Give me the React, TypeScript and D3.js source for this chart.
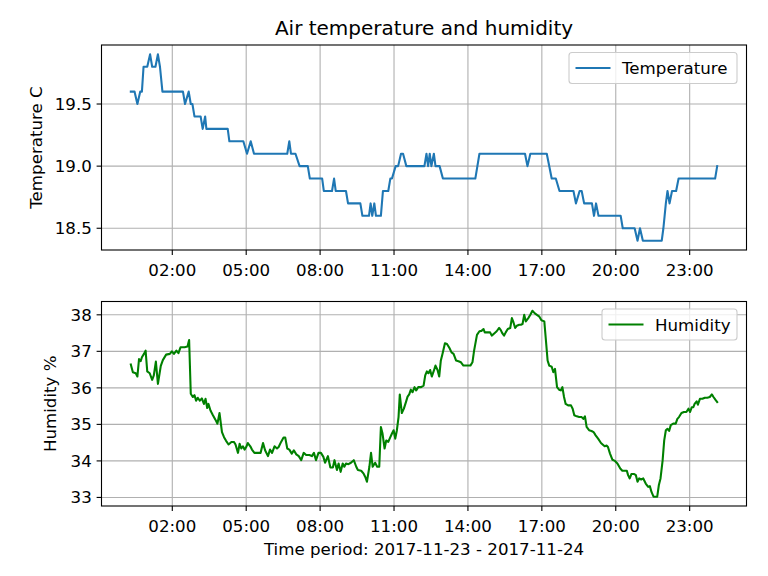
import React from "react";
import * as d3 from "d3";

// minutes since 2017-11-23 00:00, value
const temperature: [number, number][] = [
  [19, 19.6], [28, 19.6], [35, 19.5], [42, 19.6], [46, 19.6], [50, 19.8], [59, 19.8], [66, 19.9],
  [71, 19.8], [79, 19.8], [85, 19.9], [90, 19.8], [96, 19.6], [146, 19.6], [151, 19.5], [160, 19.6],
  [165, 19.5], [169, 19.5], [174, 19.4], [189, 19.4], [194, 19.3], [200, 19.4], [203, 19.3], [255, 19.3],
  [259, 19.2], [293, 19.2], [302, 19.1], [311, 19.2], [319, 19.1], [400, 19.1], [405, 19.2], [409, 19.1],
  [420, 19.1], [430, 19.0], [450, 19.0], [455, 18.9], [485, 18.9], [489, 18.8], [509, 18.8], [514, 18.9],
  [518, 18.8], [543, 18.8], [548, 18.7], [578, 18.7], [583, 18.6], [599, 18.6], [603, 18.7], [607, 18.6],
  [612, 18.7], [616, 18.6], [628, 18.6], [633, 18.8], [646, 18.8], [651, 18.9], [655, 18.9], [664, 19.0],
  [670, 19.0], [677, 19.1], [682, 19.1], [690, 19.0], [734, 19.0], [739, 19.1], [743, 19.0], [747, 19.1],
  [751, 19.0], [757, 19.1], [761, 19.0], [771, 19.0], [779, 18.9], [858, 18.9], [868, 19.1], [979, 19.1],
  [985, 19.0], [992, 19.1], [1032, 19.1], [1044, 18.9], [1054, 18.9], [1063, 18.8], [1097, 18.8], [1103, 18.7],
  [1112, 18.8], [1117, 18.8], [1123, 18.7], [1142, 18.7], [1147, 18.6], [1152, 18.7], [1158, 18.6], [1212, 18.6],
  [1217, 18.5], [1246, 18.5], [1253, 18.4], [1259, 18.5], [1266, 18.4], [1312, 18.4], [1316, 18.5], [1319, 18.6],
  [1322, 18.7], [1326, 18.8], [1331, 18.7], [1337, 18.8], [1347, 18.8], [1353, 18.9], [1442, 18.9], [1447, 19.0],
];

const humidity: [number, number][] = [
  [19, 36.64], [24, 36.43], [31, 36.4], [35, 36.31], [39, 36.79], [43, 36.73], [46, 36.84], [51, 36.93],
  [55, 37.02], [59, 36.45], [65, 36.4], [71, 36.22], [75, 36.34], [80, 36.72], [85, 36.11], [92, 36.6],
  [97, 36.76], [105, 36.91], [114, 36.93], [119, 37.0], [124, 36.93], [130, 37.02], [135, 36.95], [140, 37.11],
  [150, 37.11], [157, 37.13], [161, 37.31], [165, 35.84], [170, 35.75], [174, 35.8], [178, 35.65], [182, 35.73],
  [187, 35.65], [192, 35.71], [197, 35.56], [201, 35.7], [205, 35.45], [208, 35.56], [213, 35.38], [219, 35.25],
  [225, 35.13], [230, 35.02], [235, 35.31], [241, 34.79], [246, 34.65], [251, 34.55], [257, 34.45], [264, 34.52],
  [270, 34.52], [274, 34.45], [280, 34.22], [284, 34.47], [288, 34.34], [292, 34.4], [296, 34.31], [300, 34.38],
  [304, 34.49], [310, 34.4], [314, 34.31], [320, 34.22], [328, 34.22], [335, 34.22], [341, 34.49], [346, 34.29],
  [353, 34.13], [358, 34.31], [363, 34.22], [369, 34.4], [375, 34.34], [379, 34.38], [385, 34.52], [391, 34.64],
  [395, 34.64], [400, 34.34], [405, 34.31], [411, 34.2], [416, 34.29], [422, 34.18], [428, 34.13], [434, 34.02],
  [440, 34.22], [446, 34.16], [454, 34.16], [460, 34.13], [465, 34.22], [470, 34.02], [476, 34.22], [482, 34.22],
  [488, 34.11], [492, 33.95], [499, 34.13], [505, 33.82], [511, 33.82], [515, 34.02], [521, 33.75], [525, 33.93],
  [530, 33.7], [535, 33.93], [539, 33.84], [543, 33.93], [549, 33.91], [555, 33.95], [562, 34.02], [568, 33.84],
  [572, 33.75], [580, 33.73], [586, 33.65], [590, 33.56], [594, 33.43], [600, 33.84], [604, 34.22], [608, 33.84],
  [614, 33.95], [619, 33.84], [624, 33.84], [628, 34.93], [632, 34.75], [637, 34.34], [641, 34.56], [646, 34.52],
  [651, 34.65], [655, 34.75], [659, 34.84], [663, 34.61], [667, 34.84], [671, 35.2], [674, 35.82], [679, 35.31],
  [684, 35.43], [689, 35.61], [693, 35.76], [697, 35.82], [701, 35.95], [705, 35.88], [710, 36.02], [714, 35.93],
  [719, 36.02], [726, 36.02], [732, 36.06], [736, 36.34], [740, 36.45], [744, 36.4], [748, 36.49], [752, 36.31],
  [757, 36.47], [761, 36.61], [766, 36.49], [770, 36.31], [774, 36.75], [778, 36.93], [784, 37.22], [789, 37.2],
  [795, 37.09], [800, 36.97], [805, 36.93], [811, 36.75], [817, 36.73], [823, 36.7], [829, 36.61], [838, 36.61],
  [846, 36.61], [851, 36.7], [855, 37.02], [862, 37.45], [868, 37.55], [873, 37.56], [878, 37.61], [881, 37.52],
  [888, 37.52], [894, 37.52], [898, 37.43], [904, 37.49], [910, 37.55], [916, 37.64], [920, 37.58], [924, 37.49],
  [928, 37.43], [932, 37.52], [937, 37.61], [943, 37.64], [947, 37.91], [951, 37.79], [955, 37.64], [959, 37.7],
  [965, 37.73], [969, 37.73], [973, 37.75], [977, 38.0], [981, 37.82], [987, 37.91], [992, 38.0], [997, 38.11],
  [1003, 38.04], [1008, 38.0], [1014, 37.95], [1019, 37.85], [1026, 37.82], [1030, 37.29], [1034, 36.75], [1038, 36.61],
  [1044, 36.58], [1048, 36.43], [1052, 36.52], [1057, 36.02], [1062, 35.95], [1066, 35.93], [1070, 36.02], [1074, 35.75],
  [1078, 35.56], [1084, 35.52], [1091, 35.52], [1095, 35.43], [1099, 35.25], [1105, 35.22], [1111, 35.2], [1117, 35.2],
  [1121, 35.15], [1125, 35.22], [1129, 34.93], [1135, 34.84], [1141, 34.82], [1146, 34.79], [1151, 34.7], [1157, 34.61],
  [1164, 34.49], [1168, 34.45], [1173, 34.4], [1178, 34.42], [1181, 34.38], [1186, 34.2], [1192, 34.03], [1198, 34.0],
  [1204, 33.93], [1211, 33.79], [1216, 33.73], [1222, 33.73], [1227, 33.73], [1230, 33.61], [1234, 33.52], [1238, 33.64],
  [1245, 33.64], [1249, 33.61], [1253, 33.43], [1257, 33.52], [1262, 33.49], [1267, 33.52], [1273, 33.38], [1279, 33.29],
  [1283, 33.31], [1287, 33.15], [1292, 33.02], [1297, 33.02], [1301, 33.02], [1305, 33.34], [1309, 33.52], [1314, 34.0],
  [1318, 34.56], [1322, 34.84], [1326, 34.88], [1330, 34.82], [1334, 34.98], [1340, 35.02], [1346, 35.02], [1350, 35.15],
  [1354, 35.2], [1360, 35.31], [1366, 35.34], [1372, 35.34], [1377, 35.43], [1381, 35.34], [1385, 35.47], [1389, 35.47],
  [1392, 35.56], [1397, 35.63], [1400, 35.54], [1405, 35.7], [1411, 35.7], [1417, 35.73], [1423, 35.73], [1429, 35.75],
  [1434, 35.82], [1438, 35.75], [1443, 35.67], [1447, 35.61],
];

const xTicks = [120, 300, 480, 660, 840, 1020, 1200, 1380];
const xTickLabels = ["02:00", "05:00", "08:00", "11:00", "14:00", "17:00", "20:00", "23:00"];
const tempTicks = [18.5, 19.0, 19.5];
const humTicks = [33, 34, 35, 36, 37, 38];

const FONT = "DejaVu Sans, sans-serif";
const FS = 16.67;
const L = 101.5;
const R = 746.5;

function padded(ext: [number, number]): [number, number] {
  const m = (ext[1] - ext[0]) * 0.05;
  return [ext[0] - m, ext[1] + m];
}

const allT = [...temperature.map((d) => d[0]), ...humidity.map((d) => d[0])];
const x = d3.scaleLinear().domain(padded(d3.extent(allT) as [number, number])).range([L, R]);

type PanelProps = {
  data: [number, number][];
  top: number;
  bottom: number;
  yTicks: number[];
  yFmt: (v: number) => string;
  color: string;
  ylabel: string;
  ylabelX: number;
  legend: string;
  legendW: number;
};

function Panel(p: PanelProps) {
  const y = d3
    .scaleLinear()
    .domain(padded(d3.extent(p.data, (d) => d[1]) as [number, number]))
    .range([p.bottom, p.top]);
  const line = d3
    .line<[number, number]>()
    .x((d) => x(d[0]))
    .y((d) => y(d[1]));
  const lx = R - 9.5 - p.legendW;
  const ly = p.top + 7.5;
  return (
    <g>
      {xTicks.map((t) => (
        <line key={"gx" + t} x1={x(t)} x2={x(t)} y1={p.top} y2={p.bottom} stroke="#b0b0b0" strokeWidth={1.1} />
      ))}
      {p.yTicks.map((t) => (
        <line key={"gy" + t} x1={L} x2={R} y1={y(t)} y2={y(t)} stroke="#b0b0b0" strokeWidth={1.1} />
      ))}
      <path d={line(p.data) || ""} fill="none" stroke={p.color} strokeWidth={2.08} strokeLinejoin="round" strokeLinecap="square" />
      <rect x={L} y={p.top} width={R - L} height={p.bottom - p.top} fill="none" stroke="#000" strokeWidth={1.1} />
      {xTicks.map((t, i) => (
        <g key={"xt" + t}>
          <line x1={x(t)} x2={x(t)} y1={p.bottom} y2={p.bottom + 4.9} stroke="#000" strokeWidth={1.1} />
          <text x={x(t)} y={p.bottom + 26} textAnchor="middle" fontFamily={FONT} fontSize={FS} fill="#000">
            {xTickLabels[i]}
          </text>
        </g>
      ))}
      {p.yTicks.map((t) => (
        <g key={"yt" + t}>
          <line x1={L - 4.9} x2={L} y1={y(t)} y2={y(t)} stroke="#000" strokeWidth={1.1} />
          <text x={L - 9.7} y={y(t)} dy="0.36em" textAnchor="end" fontFamily={FONT} fontSize={FS} fill="#000">
            {p.yFmt(t)}
          </text>
        </g>
      ))}
      <text
        transform={`translate(${p.ylabelX},${(p.top + p.bottom) / 2}) rotate(-90)`}
        textAnchor="middle"
        dy="0.36em"
        fontFamily={FONT}
        fontSize={FS}
        fill="#000"
      >
        {p.ylabel}
      </text>
      <rect x={lx} y={ly} width={p.legendW} height={31} rx={3} fill="#fff" fillOpacity={0.8} stroke="#cccccc" strokeWidth={1.1} />
      <line x1={lx + 6.5} x2={lx + 41.5} y1={ly + 15.5} y2={ly + 15.5} stroke={p.color} strokeWidth={2.08} />
      <text x={lx + 53} y={ly + 15.5} dy="0.36em" fontFamily={FONT} fontSize={FS} fill="#000">
        {p.legend}
      </text>
    </g>
  );
}

export default function App() {
  return (
    <svg width={768} height={576} style={{ position: "absolute", left: 0, top: 0, background: "#fff" }}>
      <rect x={0} y={0} width={768} height={576} fill="#fff" />
      <text x={(L + R) / 2} y={35} textAnchor="middle" fontFamily={FONT} fontSize={20} fill="#000">
        Air temperature and humidity
      </text>
      <Panel
        data={temperature}
        top={45}
        bottom={250}
        yTicks={tempTicks}
        yFmt={(v) => v.toFixed(1)}
        color="#1f77b4"
        ylabel="Temperature C"
        ylabelX={36}
        legend="Temperature"
        legendW={168}
      />
      <Panel
        data={humidity}
        top={301.5}
        bottom={506}
        yTicks={humTicks}
        yFmt={(v) => String(v)}
        color="green"
        ylabel="Humidity %"
        ylabelX={50}
        legend="Humidity"
        legendW={135}
      />
      <text x={(L + R) / 2} y={555} textAnchor="middle" fontFamily={FONT} fontSize={FS} fill="#000">
        Time period: 2017-11-23 - 2017-11-24
      </text>
    </svg>
  );
}
